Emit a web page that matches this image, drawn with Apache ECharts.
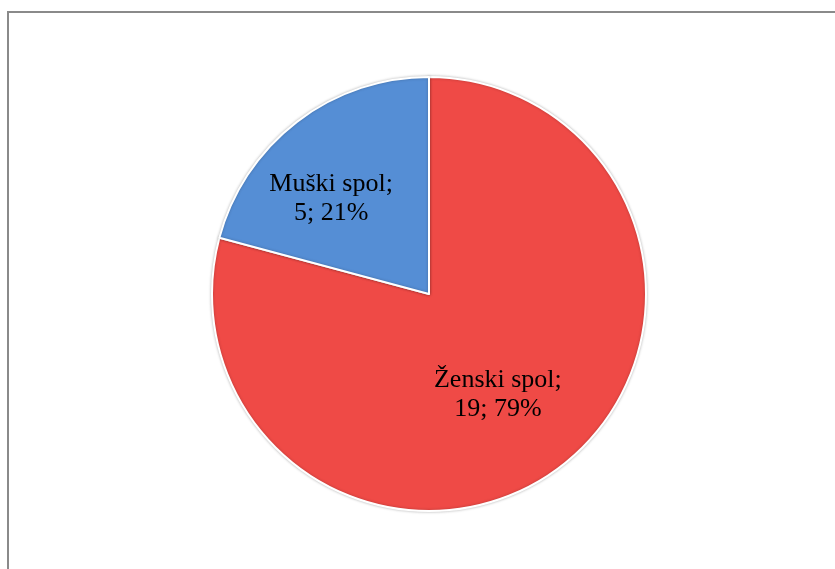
<!DOCTYPE html>
<html>
<head>
<meta charset="utf-8">
<script src="https://cdn.jsdelivr.net/npm/echarts@6/dist/echarts.min.js"></script>
<style>
html,body{margin:0;padding:0;background:#fff;}
#chart{width:835px;height:569px;}
</style>
</head>
<body>
<div id="chart"></div>
<script>
const categories = ['Ženski spol', 'Muški spol'];
const values = [19, 5];
const colors = ['#EF4A46', '#558ED5'];
const labelOffsets = [[1, 12], [-30, -7]];

const chart = echarts.init(document.getElementById('chart'), null, {renderer: 'canvas'});
const total = values.reduce((a, b) => a + b, 0);
chart.setOption({
  animation: false,
  backgroundColor: '#fff',
  graphic: [{
    type: 'rect',
    shape: {x: 8, y: 12, width: 900, height: 700},
    style: {fill: 'none', stroke: '#8a8a8a', lineWidth: 2},
    silent: true
  }],
  series: [{
    type: 'pie',
    center: [429, 294],
    radius: [0, 217],
    startAngle: 90,
    clockwise: true,
    avoidLabelOverlap: false,
    itemStyle: {borderColor: '#fff', borderWidth: 2, shadowColor: 'rgba(0,0,0,0.25)', shadowBlur: 3},
    label: {
      show: true,
      position: 'inside',
      fontFamily: 'Liberation Serif',
      fontSize: 26,
      lineHeight: 29,
      color: '#000',
      align: 'center',
      formatter: p => p.name + ';\n' + p.value + '; ' + Math.round(p.value / total * 100) + '%'
    },
    labelLine: {show: false},
    data: categories.map((c, i) => ({
      name: c,
      value: values[i],
      itemStyle: {color: colors[i]},
      label: {offset: labelOffsets[i]}
    }))
  }]
});
</script>
</body>
</html>
